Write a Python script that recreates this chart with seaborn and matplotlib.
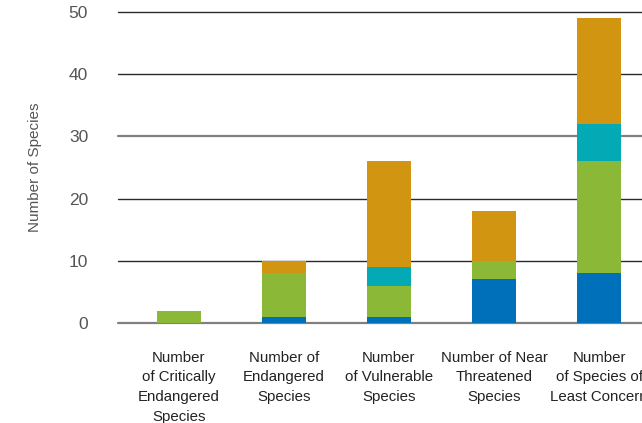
import numpy as np
import pandas as pd
import matplotlib
matplotlib.use("Agg")
import matplotlib.pyplot as plt
import seaborn as sns

# Conservation status categories (x axis)
categories = [
    "Number\nof Critically\nEndangered\nSpecies",
    "Number of\nEndangered\nSpecies",
    "Number\nof Vulnerable\nSpecies",
    "Number of Near\nThreatened\nSpecies",
    "Number\nof Species of\nLeast Concern",
]

# Stacked segments, bottom to top
series_names = ["Group A", "Group B", "Group C", "Group D"]
group_a = [0, 1, 1, 7, 8]
group_b = [2, 7, 5, 3, 18]
group_c = [0, 0, 3, 0, 6]
group_d = [0, 2, 17, 8, 17]
series_values = [group_a, group_b, group_c, group_d]
series_colors = ["#0070BA", "#8CB838", "#03AAB5", "#D29511"]

y_ticks = [0, 10, 20, 30, 40, 50]

sns.set_theme(style="white")
plt.rcParams["font.family"] = ["Liberation Sans", "DejaVu Sans"]

fig = plt.figure(figsize=(6.42, 4.23), dpi=100)
W, H = 642, 423
# axes runs past the right edge of the canvas
ax = fig.add_axes([118 / W, (H - 323) / H, 542 / W, 311 / H])

x_idx = list(range(len(categories)))
bottom = np.zeros(len(categories))
for name, vals, col in zip(series_names, series_values, series_colors):
    df = pd.DataFrame({"cat": x_idx, "val": vals})
    sns.barplot(data=df, x="cat", y="val", color=col, width=0.42,
                bottom=bottom, ax=ax, saturation=1, zorder=3,
                native_scale=True, errorbar=None, linewidth=0,
                edgecolor=col)
    bottom = bottom + np.array(vals)

ax.set_xlim(-0.58, len(categories) - 1 + 0.58)
ax.set_ylim(0, 50)

# horizontal rules
for t in y_ticks:
    c = "#808080" if t in (0, 30) else "#2a2a2a"
    lw = 1.6 if t in (0, 30) else 1.0
    ax.axhline(t, color=c, linewidth=lw, zorder=2, clip_on=False)

for s in ax.spines.values():
    s.set_visible(False)
ax.grid(False)

ax.set_yticks(y_ticks)
ax.set_yticklabels([str(t) for t in y_ticks], fontsize=12.5, color="#555555")
ax.tick_params(axis="y", length=0, pad=21.5)

ax.set_xticks(x_idx)
ax.set_xticklabels(categories, fontsize=10.8, color="#222222", linespacing=1.52)
ax.tick_params(axis="x", length=0, pad=20)

ax.set_xlabel("")
ax.set_ylabel("Number of Species", fontsize=11, color="#555555", labelpad=19)

fig.savefig("out.png", dpi=100)
